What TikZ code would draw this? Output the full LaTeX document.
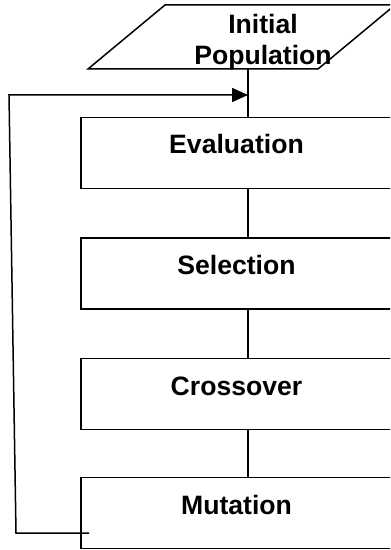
\documentclass[tikz,border=0pt]{standalone}
\usepackage{fontspec}
\setmainfont{Liberation Sans}
\usetikzlibrary{arrows.meta}
\tikzset{
  stagebox/.style={draw, rectangle, minimum width=155.5pt, inner sep=0pt,
    text height=18.25pt, text depth=17.25pt, font=\bfseries\fontsize{13.3}{15.5}\selectfont},
}
\begin{document}
\begin{tikzpicture}[x=0.5pt,y=-0.5pt,line width=0.75pt]
    \clip (0,0) rectangle (390,550);
    % input block
    \draw (165,5) -- (395,5) -- (318,69) -- (88,69) -- cycle;
    \node[align=center, inner sep=0pt, font=\bfseries\fontsize{13.3}{15.5}\selectfont] (init) at (263,42) {Initial\\Population};
    \coordinate (trunk) at (248,69);
    % stages
    \foreach \name/\txt/\y in {eval/Evaluation/153, sel/Selection/273.5, cross/Crossover/394, mut/Mutation/513}
      \node[stagebox] (\name) at (236.5,\y) {\txt};
    \draw (trunk) -- (trunk |- eval.north);
    \foreach \a/\b in {eval/sel, sel/cross, cross/mut}
      \draw (\a.south -| trunk) -- (\b.north -| trunk);
    % loop back
    \coordinate (loopend) at (89,533);
    \coordinate (low) at (16,533);
    \coordinate (ret) at (9,95);
    \draw [-{Triangle[length=8pt,width=7pt]}](loopend) -- (low) -- (ret) -- (trunk |- ret);
  \end{tikzpicture}
\end{document}
